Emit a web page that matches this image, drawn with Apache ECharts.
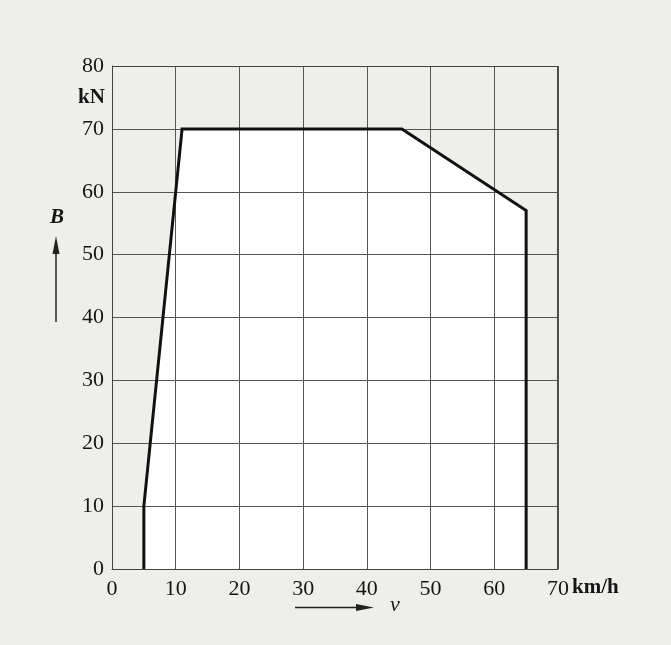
<!DOCTYPE html>
<html><head><meta charset="utf-8">
<script src="https://cdn.jsdelivr.net/npm/echarts@6/dist/echarts.min.js"></script>
<style>html,body{margin:0;padding:0;background:#eeefeb}#c{width:671px;height:645px}</style>
</head><body><div id="c"></div>
<script>
// Data
const speedKmh = [5, 5, 11, 45.5, 65, 65];
const forceKN = [0, 10, 70, 70, 57, 0];
const xTicks = [0, 10, 20, 30, 40, 50, 60, 70];
const yTicks = [0, 10, 20, 30, 40, 50, 60, 70, 80];

const pts = speedKmh.map((v, i) => [v, forceKN[i]]);
const font = 'Liberation Serif, Times New Roman, serif';
const chart = echarts.init(document.getElementById('c'), null, {renderer: 'canvas'});
chart.setOption({
  backgroundColor: '#eeefeb',
  animation: false,
  grid: {left: 112, right: 113, top: 66, bottom: 76, show: false},
  xAxis: {
    type: 'value', min: 0, max: 70, interval: 10, z: 3,
    axisLine: {show: true, lineStyle: {color: '#444', width: 1}},
    axisTick: {show: false},
    splitLine: {show: true, lineStyle: {color: '#555', width: 1}},
    axisLabel: {margin: 9, color: '#151515', fontFamily: font, fontSize: 22}
  },
  yAxis: {
    type: 'value', min: 0, max: 80, interval: 10, z: 3,
    axisLine: {show: true, lineStyle: {color: '#444', width: 1}},
    axisTick: {show: false},
    splitLine: {show: true, lineStyle: {color: '#555', width: 1}},
    axisLabel: {margin: 8, color: '#151515', fontFamily: font, fontSize: 22}
  },
  series: [
    {type: 'line', data: pts, z: 1, symbol: 'none', lineStyle: {width: 0},
     areaStyle: {color: '#ffffff', opacity: 1, origin: 'start'}},
    {type: 'line', data: pts, z: 5, symbol: 'none',
     lineStyle: {color: '#111', width: 3, join: 'miter'}}
  ],
  graphic: [
    {type: 'rect', shape: {x: 557, y: 66, width: 1, height: 503}, style: {fill: '#444'}, z: 10},
    {type: 'rect', shape: {x: 112, y: 66, width: 446, height: 1}, style: {fill: '#444'}, z: 10},
    {type: 'text', left: 78, top: 87, style: {text: 'kN', font: 'bold 21px ' + font, fill: '#151515'}},
    {type: 'text', left: 572, top: 577, style: {text: 'km/h', font: 'bold 21px ' + font, fill: '#151515'}},
    {type: 'text', left: 50, top: 207, style: {text: 'B', font: 'italic bold 21px ' + font, fill: '#151515'}},
    {type: 'line', shape: {x1: 56, y1: 322, x2: 56, y2: 248}, style: {stroke: '#222', lineWidth: 1.5}},
    {type: 'polygon', shape: {points: [[56, 236], [52.5, 254], [59.5, 254]]}, style: {fill: '#222'}},
    {type: 'line', shape: {x1: 295, y1: 607.5, x2: 360, y2: 607.5}, style: {stroke: '#222', lineWidth: 1.5}},
    {type: 'polygon', shape: {points: [[374, 607.5], [356, 604], [356, 611]]}, style: {fill: '#222'}},
    {type: 'text', left: 390, top: 594, style: {text: 'v', font: 'italic 22px ' + font, fill: '#151515'}}
  ]
});
</script></body></html>
